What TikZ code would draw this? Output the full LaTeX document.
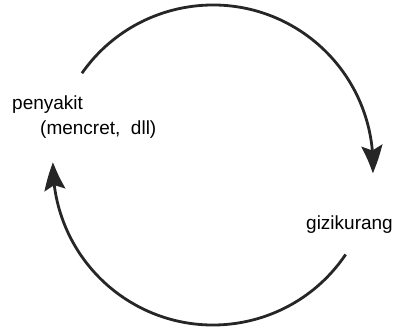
\documentclass[tikz,border=0pt]{standalone}
\usepackage{fontspec}
\setmainfont{Liberation Sans}
\usetikzlibrary{arrows.meta,bending,calc}
\begin{document}
\begin{tikzpicture}[x=1pt,y=1pt,
  lbl/.style={inner sep=0pt,anchor=base west,font=\fontsize{19}{22}\selectfont},
  cycle/.style={line width=2.8pt,draw=black!85,
    -{Stealth[length=28pt,width=21pt,inset=5pt,bend]}}]
  \useasboundingbox (0,0) rectangle (405,330);
  % centre of the cycle
  \coordinate (c) at (213,165);
  % labels
  \node[lbl] (p1) at (12,220) {penyakit};
  \node[lbl] (p2) at (40,195) {(mencret,\ \ dll)};
  \node[lbl] (g) at (306,100) {gizikurang};
  % arc start points
  \coordinate (s1) at ($(c)+(145:160)$);
  \coordinate (s2) at ($(c)+(-34:160)$);
  % penyakit -> gizikurang
  \draw[cycle] (s1) arc[start angle=145,end angle=-3,radius=160];
  % gizikurang -> penyakit
  \draw[cycle] (s2) arc[start angle=-34,end angle=-181,radius=160];
\end{tikzpicture}
\end{document}
